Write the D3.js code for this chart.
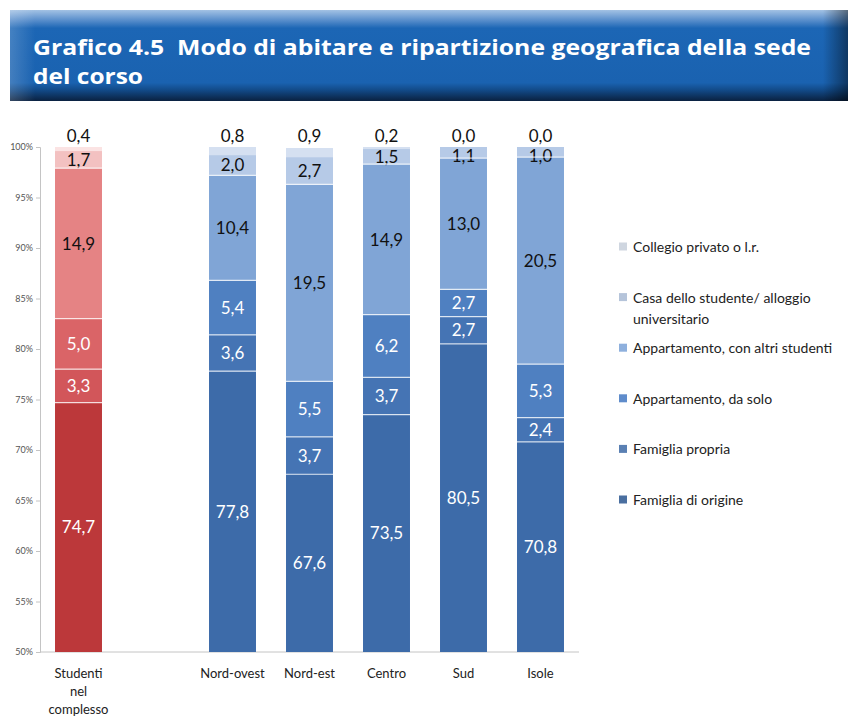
<!DOCTYPE html>
<html lang="it">
<head>
<meta charset="UTF-8">
<title>Grafico 4.5</title>
<script src="https://cdn.jsdelivr.net/npm/d3@7"></script>
<style>
    body { margin: 0; background: #fff; }
    #chart { width: 855px; height: 718px; }
</style>
</head>
<body>
<div id="chart"></div>
<script>
    // categorie (lo spazio vuoto separa il totale dalle ripartizioni)
    const categories = ["Studenti nel complesso", "", "Nord-ovest", "Nord-est", "Centro", "Sud", "Isole"];
    const catLines = [["Studenti", "nel", "complesso"], [], ["Nord-ovest"], ["Nord-est"], ["Centro"], ["Sud"], ["Isole"]];

    // serie dal basso verso l'alto
    const series = ["Famiglia di origine", "Famiglia propria", "Appartamento, da solo",
        "Appartamento, con altri studenti", "Casa dello studente/ alloggio universitario", "Collegio privato o l.r."];

    const famigliaOrigine = [74.7, null, 77.8, 67.6, 73.5, 80.5, 70.8];
    const famigliaPropria = [3.3, null, 3.6, 3.7, 3.7, 2.7, 2.4];
    const appSolo = [5.0, null, 5.4, 5.5, 6.2, 2.7, 5.3];
    const appAltri = [14.9, null, 10.4, 19.5, 14.9, 13.0, 20.5];
    const casaStudente = [1.7, null, 2.0, 2.7, 1.5, 1.1, 1.0];
    const collegio = [0.4, null, 0.8, 0.9, 0.2, 0.0, 0.0];

    const yTicks = [50, 55, 60, 65, 70, 75, 80, 85, 90, 95, 100];

    const blues = ["#3d6ba9", "#4574b4", "#4f80c1", "#80a5d6", "#b6cae7", "#d5e0f1"];
    const reds = ["#bc383a", "#d2565a", "#da6467", "#e58384", "#f3c1c1", "#fbe3e3"];
    const legendColors = ["#4a6fa0", "#5a80b3", "#5f8ccb", "#8eb0dd", "#b5c4da", "#cfd6e0"];

    const all = [famigliaOrigine, famigliaPropria, appSolo, appAltri, casaStudente, collegio];
    const fmt = v => v.toFixed(1).replace(".", ",");

    let svg = d3.select("#chart").append("svg")
        .attr("width", 855)
        .attr("height", 718);

    // banner del titolo
    let defs = svg.append("defs");
    let gv = defs.append("linearGradient").attr("id", "bannerV").attr("x1", 0).attr("y1", 0).attr("x2", 0).attr("y2", 1);
    gv.append("stop").attr("offset", "0").attr("stop-color", "#a3c2e4");
    gv.append("stop").attr("offset", "0.11").attr("stop-color", "#5a8fcc");
    gv.append("stop").attr("offset", "0.2").attr("stop-color", "#1c66b5");
    gv.append("stop").attr("offset", "0.8").attr("stop-color", "#1a62b0");
    gv.append("stop").attr("offset", "0.88").attr("stop-color", "#124a88");
    gv.append("stop").attr("offset", "1").attr("stop-color", "#0a2140");
    let gh = defs.append("linearGradient").attr("id", "bannerH").attr("x1", 0).attr("y1", 0).attr("x2", 1).attr("y2", 0);
    gh.append("stop").attr("offset", "0").attr("stop-color", "#ffffff").attr("stop-opacity", 0.18);
    gh.append("stop").attr("offset", "0.03").attr("stop-color", "#ffffff").attr("stop-opacity", 0);
    gh.append("stop").attr("offset", "0.97").attr("stop-color", "#000000").attr("stop-opacity", 0);
    gh.append("stop").attr("offset", "1").attr("stop-color", "#000000").attr("stop-opacity", 0.45);

    svg.append("rect").attr("x", 10).attr("y", 10).attr("width", 838).attr("height", 91).attr("fill", "url(#bannerV)");
    svg.append("rect").attr("x", 10).attr("y", 10).attr("width", 838).attr("height", 91).attr("fill", "url(#bannerH)");

    // titolo su due righe
    const titleLines = ["Grafico 4.5  Modo di abitare e ripartizione geografica della sede", "del corso"];
    const titleWidths = [778, 110];
    titleLines.forEach((t, j) => {
        svg.append("text")
            .attr("x", 33).attr("y", 55 + j * 29)
            .attr("fill", "#fff")
            .attr("font-family", "Open Sans")
            .attr("font-weight", 700)
            .attr("font-size", 21)
            .attr("textLength", titleWidths[j])
            .attr("lengthAdjust", "spacingAndGlyphs")
            .style("white-space", "pre")
            .text(t);
    });

    // scale
    let x = d3.scaleBand()
        .domain(categories.map((c, i) => i))
        .range([40, 579])
        .paddingInner(0.39)
        .paddingOuter(0.195);

    let y = d3.scaleLinear()
        .domain([50, 100])
        .range([652, 147]);

    let font = "Lato, 'Open Sans', sans-serif";

    // asse y
    let yAxis = d3.axisLeft(y)
        .tickValues(yTicks)
        .tickSize(4)
        .tickFormat(d => d + "%");
    let ya = svg.append("g")
        .attr("transform", "translate(40,0)")
        .call(yAxis);
    ya.select(".domain").attr("stroke", "#c4c4c4");
    ya.selectAll(".tick line").attr("stroke", "#c4c4c4");
    ya.selectAll(".tick text")
        .attr("fill", "#555")
        .attr("font-family", font)
        .attr("font-size", 9)
        .attr("x", -7);

    // asse x
    svg.append("line")
        .attr("x1", 40).attr("x2", 579)
        .attr("y1", y(50)).attr("y2", y(50))
        .attr("stroke", "#c4c4c4");

    // barre impilate
    categories.forEach((c, i) => {
        if (all[0][i] == null) return;
        let colors = i === 0 ? reds : blues;
        let base = 0;
        let g = svg.append("g");
        all.forEach((s, k) => {
            let v = s[i];
            let y0 = base, y1 = base + v;
            base = y1;
            let top = y(Math.max(y1, 50)), bot = y(Math.max(y0, 50));
            if (bot - top > 0) {
                g.append("rect")
                    .attr("x", x(i))
                    .attr("width", x.bandwidth())
                    .attr("y", top)
                    .attr("height", bot - top)
                    .attr("fill", colors[k]);
            }
            let ly;
            if (k === series.length - 1) {
                ly = y(100) - 11;
            } else {
                ly = Math.max((top + bot) / 2, y(100) + 9);
            }
            g.append("text")
                .attr("x", x(i) + x.bandwidth() / 2)
                .attr("y", ly)
                .attr("dy", "0.36em")
                .attr("text-anchor", "middle")
                .attr("font-family", font)
                .attr("font-size", 17)
                .attr("fill", k < 3 ? "#ffffff" : "#111111")
                .text(fmt(v));
        });
        // linee bianche di separazione
        let cum = 0;
        all.slice(0, -1).forEach((s, k) => {
            cum += s[i];
            if (k >= 4) return;
            g.append("line")
                .attr("x1", x(i)).attr("x2", x(i) + x.bandwidth())
                .attr("y1", y(cum)).attr("y2", y(cum))
                .attr("stroke", "#ffffff")
                .attr("stroke-opacity", 0.75)
                .attr("stroke-width", 1.2);
        });
    });

    // etichette categorie
    catLines.forEach((lines, i) => {
        lines.forEach((t, j) => {
            svg.append("text")
                .attr("x", x(i) + x.bandwidth() / 2)
                .attr("y", 678 + j * 18)
                .attr("text-anchor", "middle")
                .attr("font-family", font)
                .attr("font-size", 13)
                .attr("fill", "#222")
                .text(t);
        });
    });

    // legenda (dall'alto verso il basso)
    const legendLines = [["Collegio privato o l.r."], ["Casa dello studente/ alloggio", "universitario"],
        ["Appartamento, con altri studenti"], ["Appartamento, da solo"], ["Famiglia propria"], ["Famiglia di origine"]];
    let lg = svg.append("g");
    legendLines.forEach((lines, j) => {
        let k = series.length - 1 - j;
        let ly = 247 + j * 50.6;
        lg.append("rect")
            .attr("x", 619).attr("y", ly - 4.5)
            .attr("width", 8).attr("height", 8)
            .attr("fill", legendColors[k]);
        lines.forEach((t, m) => {
            lg.append("text")
                .attr("x", 633)
                .attr("y", ly + m * 21)
                .attr("dy", "0.35em")
                .attr("font-family", font)
                .attr("font-size", 14)
                .attr("fill", "#222")
                .text(t);
        });
    });
</script>
</body>
</html>
